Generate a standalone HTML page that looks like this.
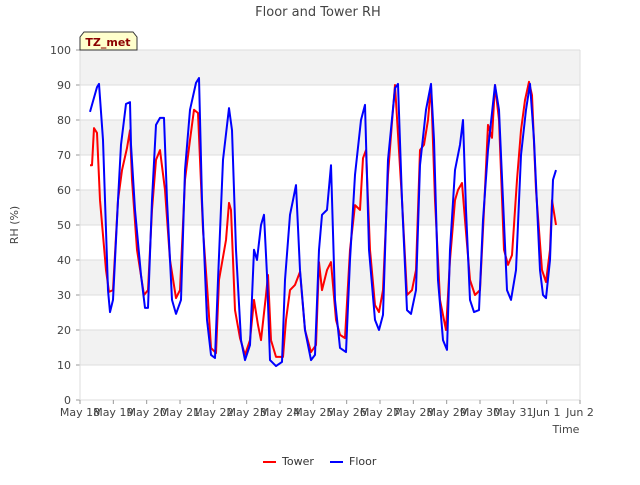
<!DOCTYPE html>
<html><head><meta charset="utf-8"><style>
body{margin:0;background:#fff;font-family:"Liberation Sans","DejaVu Sans",sans-serif;}
svg text{font-family:"DejaVu Sans","Liberation Sans",sans-serif;}
</style></head><body>
<svg id="chart" width="640" height="480" viewBox="0 0 640 480">
<text x="318" y="16" text-anchor="middle" font-size="13" fill="#444">Floor and Tower RH</text>
<g id="plot"></g>
<g>
<path d="M80,50 L80,37 L84,32 L133,32 L137,37 L137,50 Z" fill="#ffffcc" stroke="#333" stroke-width="1"/>
<text x="108" y="46" text-anchor="middle" font-size="11" font-weight="bold" fill="#8b0000">TZ_met</text>
</g>
<text x="18" y="225" text-anchor="middle" font-size="11" fill="#444" transform="rotate(-90 18 225)">RH (%)</text>
<text x="566" y="433" text-anchor="middle" font-size="11" fill="#444">Time</text>
<g>
<g><line x1="263" y1="462" x2="276" y2="462" stroke="#ff0000" stroke-width="2"/><text x="282" y="465" font-size="11" fill="#333">Tower</text></g>
<g><line x1="330" y1="462" x2="343" y2="462" stroke="#0000ff" stroke-width="2"/><text x="349" y="465" font-size="11" fill="#333">Floor</text></g>
</g>
</svg>
<script>
const xTickLabels=["May 18","May 19","May 20","May 21","May 22","May 23","May 24","May 25","May 26","May 27","May 28","May 29","May 30","May 31","Jun 1","Jun 2"];
const yTicks=[0,10,20,30,40,50,60,70,80,90,100];
const towerT=[0.30,0.36,0.42,0.51,0.60,0.78,0.87,0.99,1.14,1.26,1.41,1.50,1.56,1.71,1.92,2.04,2.16,2.28,2.40,2.55,2.70,2.88,3.00,3.15,3.30,3.42,3.54,3.69,3.84,3.93,4.08,4.17,4.38,4.47,4.53,4.65,4.80,4.95,5.10,5.22,5.34,5.43,5.58,5.64,5.73,5.88,6.09,6.18,6.30,6.45,6.60,6.75,6.93,7.08,7.17,7.26,7.41,7.53,7.68,7.80,7.95,8.10,8.25,8.40,8.49,8.58,8.70,8.85,8.97,9.09,9.24,9.36,9.45,9.66,9.81,9.96,10.08,10.20,10.32,10.44,10.53,10.65,10.80,10.98,11.10,11.25,11.34,11.46,11.55,11.70,11.85,12.00,12.12,12.24,12.36,12.45,12.57,12.72,12.84,12.96,13.11,13.23,13.35,13.47,13.56,13.68,13.86,13.98,14.10,14.16,14.28];
const towerV=[67.1,67.1,77.7,76.3,57.1,37.1,30.9,31.4,57.1,65.7,72,77.1,62.9,42.9,30,31.4,54.3,68.6,71.4,60,40,29.1,31.4,62.9,74.3,82.9,82,48.6,28.6,14.9,13.4,34.3,45.7,56.3,54.3,25.7,17.7,12.9,17.1,28.6,21.4,17.1,30,35.7,17.1,12.3,12.3,22.9,31.4,32.9,36.6,20,13.7,15.7,39.4,31.4,37.1,39.4,22.9,18.6,17.7,42.9,55.7,54.3,69.1,71.4,42.9,27.1,25.1,31.4,64.3,79.4,90,57.1,30,31.4,37.1,71.4,72.9,80,90,57.1,28.6,20,40,57.1,60,62,51.4,34.3,30,31.4,54.3,78.6,74.9,90,80,42.9,38.6,41.4,62.9,77.1,85.7,90.9,87.1,60,37.1,33.7,42.9,57.1,50];
const floorT=[0.30,0.51,0.57,0.69,0.84,0.90,0.99,1.14,1.23,1.38,1.50,1.53,1.65,1.83,1.95,2.04,2.16,2.28,2.40,2.52,2.61,2.76,2.88,3.03,3.15,3.30,3.48,3.57,3.66,3.81,3.93,4.05,4.14,4.29,4.47,4.56,4.68,4.83,4.95,5.10,5.22,5.31,5.43,5.52,5.61,5.70,5.88,6.06,6.15,6.30,6.39,6.48,6.60,6.75,6.93,7.05,7.17,7.26,7.41,7.53,7.65,7.80,7.98,8.10,8.25,8.43,8.55,8.67,8.85,8.97,9.09,9.24,9.45,9.54,9.66,9.81,9.93,10.08,10.20,10.38,10.53,10.62,10.74,10.89,11.01,11.10,11.25,11.40,11.49,11.58,11.70,11.82,11.97,12.09,12.24,12.45,12.57,12.69,12.81,12.93,13.08,13.23,13.38,13.50,13.62,13.80,13.89,13.98,14.10,14.19,14.28];
const floorV=[82.3,89.4,90.3,74.3,31.4,25.1,28.6,57.1,72.9,84.6,85.1,72.9,54.3,35.7,26.3,26.3,57.1,78.6,80.6,80.6,57.1,28.6,24.6,28.6,65.7,82.9,90.6,92,57.1,22.9,12.9,12,34.3,68.6,83.4,77.1,42.9,17.1,11.4,15.7,42.9,40,50,52.9,35.7,11.4,9.7,10.9,34.3,52.9,57.1,61.4,37.1,20,11.4,12.9,42.9,52.9,54.3,67.1,28.6,14.9,13.7,40,64.3,80,84.3,42.9,22.9,20,24.3,68.6,89.1,90.3,57.1,25.7,24.6,31.4,67.1,82.9,90.3,74.3,34.3,17.1,14.3,42.9,65.7,72.9,80,54.3,28.6,25.1,25.7,51.4,71.4,90,82.9,57.1,31.4,28.6,37.1,70,82.9,90.3,74.3,37.1,30,29.1,40,62.9,65.7];

const NS="http://www.w3.org/2000/svg";
const L=80,R=580,T=50,B=400;
const xS=d=>L+(R-L)*d/15;
const yS=v=>B-(B-T)*v/100;
const plot=document.getElementById('plot');
function mk(tag,attrs){const e=document.createElementNS(NS,tag);for(const k in attrs)e.setAttribute(k,attrs[k]);plot.appendChild(e);return e;}
const bg=mk('rect',{x:L,y:T,width:R-L,height:B-T,fill:'#fff'});


for(let i=0;i<yTicks.length-1;i++){
  if(i%2===1){const b=mk('rect',{x:L,y:yS(yTicks[i+1]),width:R-L,height:yS(yTicks[i])-yS(yTicks[i+1]),fill:'#f2f2f2'});
  
  }
}
yTicks.forEach(v=>{
  const g=mk('line',{x1:L,x2:R,y1:yS(v),y2:yS(v),stroke:'#dddddd','stroke-width':1});
  
  
  const tk=mk('line',{x1:L-4,x2:L,y1:yS(v),y2:yS(v),stroke:'#999'});
  
  
  const t=mk('text',{x:L-9,y:yS(v)+4,'text-anchor':'end','font-size':11,fill:'#444'});t.textContent=v;
  
  
});
const ax=mk('path',{d:`M${L},${T} L${L},${B} L${R},${B} L${R},${T}`,fill:'none',stroke:'#dddddd'});


xTickLabels.forEach((s,i)=>{
  const tk=mk('line',{x1:xS(i),x2:xS(i),y1:B,y2:B+4,stroke:'#999'});
  
  
  const t=mk('text',{x:xS(i),y:B+16,'text-anchor':'middle','font-size':11,fill:'#444'});t.textContent=s;
  
  
});
function series(ts,vs,color,name){
  const n=Math.min(ts.length,vs.length);let d='';
  for(let i=0;i<n;i++)d+=(i?'L':'M')+xS(ts[i]).toFixed(1)+','+yS(vs[i]).toFixed(1);
  const p=mk('path',{d:d,fill:'none',stroke:color,'stroke-width':2,'stroke-linejoin':'round'});
  
  
}
series(towerT,towerV,'#ff0000','tower-line');
series(floorT,floorV,'#0000ff','floor-line');
</script>
</body></html>
